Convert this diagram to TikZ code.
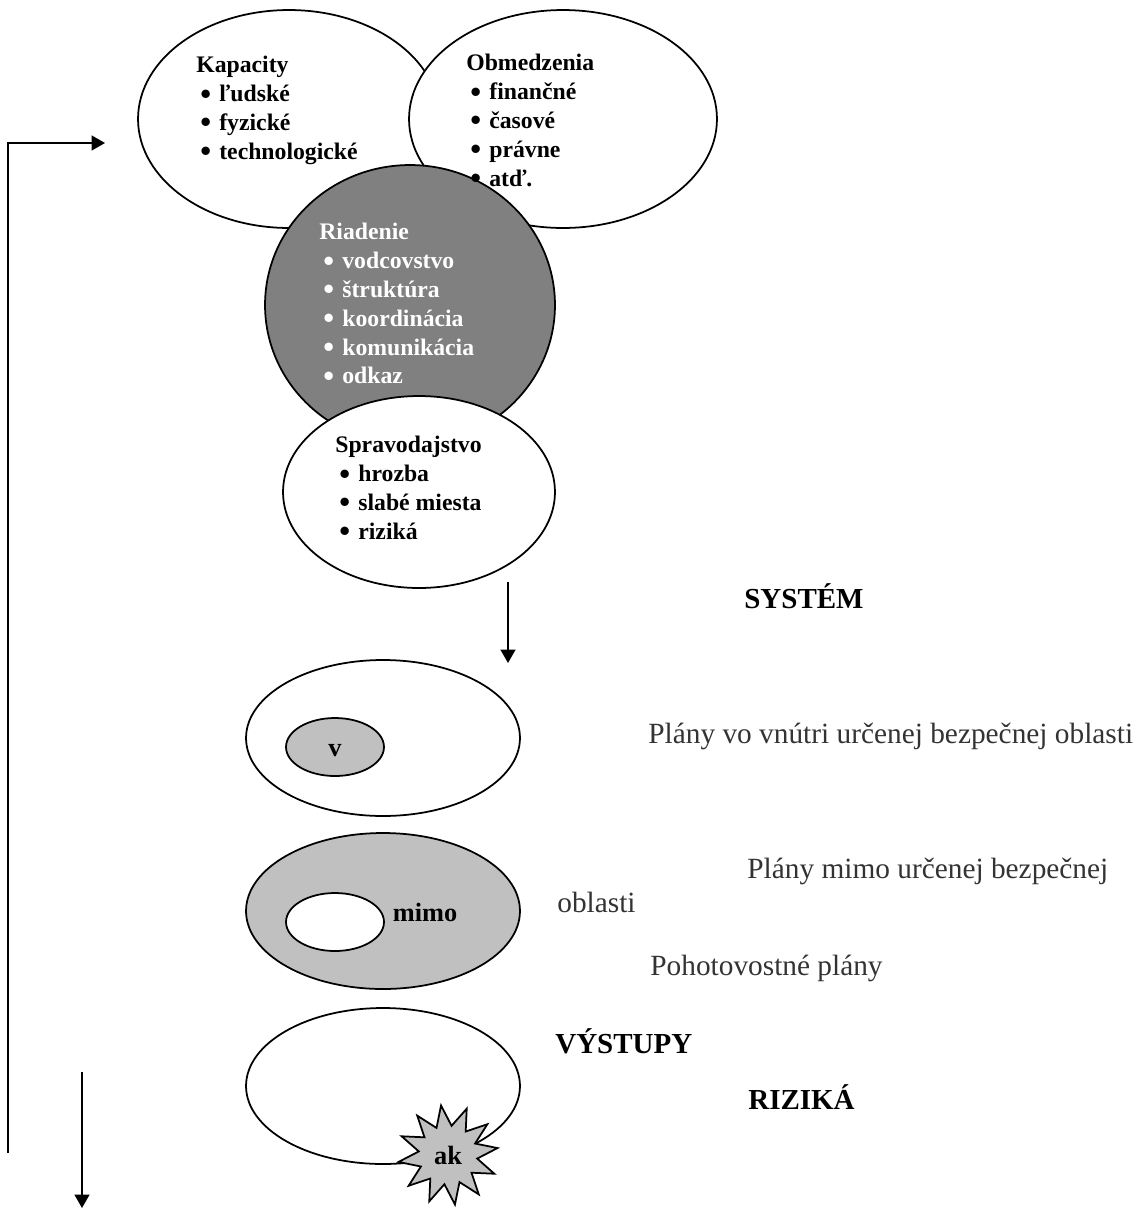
\documentclass[tikz,border=0pt]{standalone}
\usepackage{fontspec}
\setmainfont{Liberation Serif}
\usepackage{xcolor}
\usepackage{tikz}
\usetikzlibrary{positioning,arrows.meta,shapes.geometric}
\definecolor{darkfill}{HTML}{808080}
\definecolor{lightfill}{HTML}{C0C0C0}
\definecolor{plangray}{HTML}{333333}
\newcommand{\itm}[1]{\hspace*{0.08cm}\makebox[0.38cm][l]{\raisebox{-0.1em}{\scalebox{1.3}{\textbullet}}}#1}

\begin{document}
\begin{tikzpicture}[x=0.02cm, y=-0.02cm,
    oval/.style={draw, line width=1pt, ellipse, fill=white, inner sep=0pt},
    list/.style={align=left, anchor=north west, inner sep=0pt, font=\fontsize{13.5}{16.4}\selectfont\bfseries},
    tag/.style={anchor=base west, inner sep=0pt, font=\fontsize{16.5}{20}\selectfont\bfseries},
    plan/.style={anchor=base west, inner sep=0pt, text=plangray, font=\fontsize{16.7}{20}\selectfont},
    letter/.style={inner sep=0pt, font=\fontsize{15}{18}\selectfont\bfseries},
    arr/.style={-{Triangle[length=2.7mm, width=3mm]}, line width=1pt}
]
    \useasboundingbox (0,0) rectangle (1143,1211);

    % Top cluster
    \node[oval, minimum width=6.04cm, minimum height=4.36cm] (kapacity) at (289,119) {};
    \node[oval, minimum width=6.16cm, minimum height=4.36cm] (obmedzenia) at (563,119) {};
    \node[oval, fill=darkfill, minimum width=5.8cm, minimum height=5.6cm] (riadenie) at (410,305) {};
    \node[oval, minimum width=5.44cm, minimum height=3.84cm] (spravodajstvo) at (419,492) {};

    \node[list] (kaptext) at (196,56) {Kapacity\\ \itm{ľudské}\\ \itm{fyzické}\\ \itm{technologické}};
    \node[list] (obmtext) at (466,54) {Obmedzenia\\ \itm{finančné}\\ \itm{časové}\\ \itm{právne}\\ \itm{atď.}};
    \node[list, text=white] (riadtext) at (319,223) {Riadenie\\ \itm{vodcovstvo}\\ \itm{štruktúra}\\ \itm{koordinácia}\\ \itm{komunikácia}\\ \itm{odkaz}};
    \node[list] (spravtext) at (335,436) {Spravodajstvo\\ \itm{hrozba}\\ \itm{slabé miesta}\\ \itm{riziká}};

    % System
    \node[tag] (system) at (744,608) {SYSTÉM};
    \coordinate (downstart) at (508,582);
    \coordinate (downend) at (508,663);
    \draw[arr] (downstart) -- (downend);

    \node[oval, minimum width=5.48cm, minimum height=3.12cm] (inside) at (383,738) {};
    \node[oval, fill=lightfill, minimum width=1.96cm, minimum height=1.16cm] (insidecore) at (335,747) {};
    \node[letter] (vlabel) at (335,751) {v};
    \node[plan] (planin) at (648,743) {Plány vo vnútri určenej bezpečnej oblasti};

    \node[oval, fill=lightfill, minimum width=5.48cm, minimum height=3.12cm] (outside) at (383,911) {};
    \node[oval, minimum width=1.96cm, minimum height=1.16cm] (outsidecore) at (335,922) {};
    \node[letter] (mimolabel) at (425,912) {mimo};
    \node[plan] (planout) at (747,878) {Plány mimo určenej bezpečnej};
    \node[plan] (planoutrest) at (557,912) {oblasti};
    \node[plan] (planready) at (650,975) {Pohotovostné plány};

    \node[oval, minimum width=5.48cm, minimum height=3.12cm] (outputs) at (383,1086) {};
    \node[star, star points=12, star point ratio=1.7, draw, line width=1pt, fill=lightfill,
          minimum size=2cm, inner sep=0pt, rotate=8, font=\fontsize{15}{18}\selectfont\bfseries] (accident) at (448,1155) {\rotatebox{-8}{ak}};
    \node[tag] (vystupy) at (555,1053) {VÝSTUPY};
    \node[tag] (rizika) at (748,1109) {RIZIKÁ};

    % Feedback loop
    \coordinate (loopstart) at (8,1153);
    \coordinate (loopend) at (105,143);
    \draw[arr] (loopstart) |- (loopend);
    \coordinate (exitstart) at (82,1072);
    \coordinate (exitend) at (82,1208);
    \draw[arr] (exitstart) -- (exitend);
\end{tikzpicture}
\end{document}
